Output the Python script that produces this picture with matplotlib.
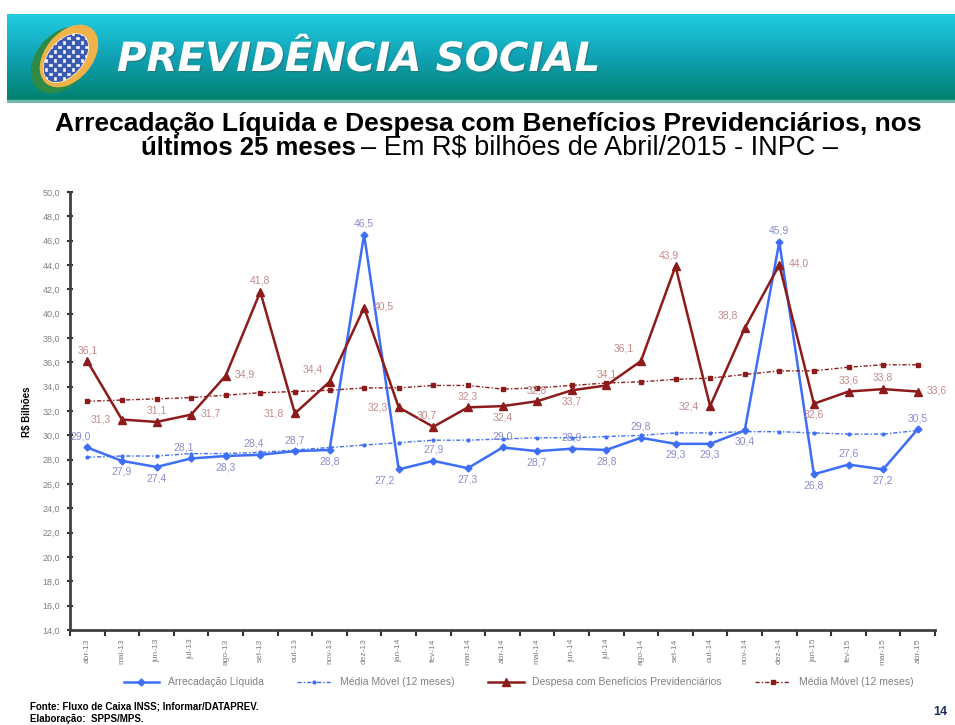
import numpy as np
import matplotlib.pyplot as plt
from matplotlib.patches import Ellipse, Rectangle
import matplotlib.patheffects as pe

plt.rcParams['font.family'] = ['Liberation Sans', 'DejaVu Sans']

meses = ["abr-13", "mai-13", "jun-13", "jul-13", "ago-13", "set-13", "out-13",
         "nov-13", "dez-13", "jan-14", "fev-14", "mar-14", "abr-14", "mai-14",
         "jun-14", "jul-14", "ago-14", "set-14", "out-14", "nov-14", "dez-14",
         "jan-15", "fev-15", "mar-15", "abr-15"]
arrecadacao = [29.0, 27.9, 27.4, 28.1, 28.3, 28.4, 28.7, 28.8, 46.5, 27.2, 27.9,
               27.3, 29.0, 28.7, 28.9, 28.8, 29.8, 29.3, 29.3, 30.4, 45.9, 26.8,
               27.6, 27.2, 30.5]
arrecadacao_mm = [28.2, 28.3, 28.3, 28.5, 28.5, 28.6, 28.8, 29.0, 29.2, 29.4, 29.6,
                  29.6, 29.7, 29.8, 29.8, 29.9, 30.0, 30.2, 30.2, 30.3, 30.3, 30.2,
                  30.1, 30.1, 30.4]
despesa = [36.1, 31.3, 31.1, 31.7, 34.9, 41.8, 31.8, 34.4, 40.5, 32.3, 30.7, 32.3,
           32.4, 32.8, 33.7, 34.1, 36.1, 43.9, 32.4, 38.8, 44.0, 32.6, 33.6, 33.8,
           33.6]
despesa_mm = [32.8, 32.9, 33.0, 33.1, 33.3, 33.5, 33.6, 33.7, 33.9, 33.9, 34.1, 34.1,
              33.8, 33.9, 34.1, 34.3, 34.4, 34.6, 34.7, 35.0, 35.3, 35.3, 35.6, 35.8,
              35.8]

# where each value label sits around its point
pos_arr = ["al", "b", "b", "al", "b", "al", "a", "b", "a", "bl", "a", "b", "a",
           "b", "a", "b", "a", "b", "b", "b", "a", "b", "a", "b", "a"]
pos_desp = ["a", "l", "a", "r", "r", "a", "l", "ul", "r", "l", "al", "a", "b",
            "a", "b", "a", "ul", "al", "l", "ul", "r", "b", "a", "a", "r"]
offs = {"a": (0, 8), "b": (0, -8), "l": (-15, 0), "r": (14, 1),
        "al": (-5, 8), "ul": (-12, 9), "bl": (-10, -8)}

azul = "#3D6EF5"
vermelho = "#8E1B1B"
azul_txt = "#8A8CCB"
verm_txt = "#C48A8A"

fig = plt.figure(figsize=(9.55, 7.25), dpi=100)

# banner
bax = fig.add_axes([7 / 955, 1 - 103 / 725, 948 / 955, 89 / 725])
top = np.array([0.13, 0.80, 0.88])
mid = np.array([0.06, 0.63, 0.70])
bot = np.array([0.00, 0.50, 0.41])
t = np.linspace(0, 1, 100)[:, None]
grad = np.where(t < 0.5, top + (mid - top) * (t / 0.5), mid + (bot - mid) * ((t - 0.5) / 0.5))
bax.imshow(grad[:, None, :].repeat(2, axis=1), extent=[0, 948, 103, 14], aspect='auto')
bax.add_patch(Rectangle((0, 100), 948, 3, color="#6FB8A8"))
bax.set_xlim(0, 948)
bax.set_ylim(103, 14)
bax.axis("off")

# logo
bax.add_patch(Ellipse((55, 60), 74, 50, angle=-50, color="#2E8B45"))
bax.add_patch(Ellipse((62, 56), 70, 46, angle=-50, color="#F2B24A"))
inner = Ellipse((59, 58), 56, 34, angle=-50, color="white")
bax.add_patch(inner)
for i in range(-9, 10):
    for j in range(-9, 10):
        if (i + j) % 2 == 0:
            sq = Rectangle((59 + i * 4.5, 58 + j * 4.5), 4.5, 4.5, color="#3A5BB0")
            bax.add_patch(sq)
            sq.set_clip_path(inner)
bax.text(110, 60, "PREVIDÊNCIA SOCIAL", color="white", fontsize=29, weight="bold",
         style="italic", va="center", ha="left", family="DejaVu Sans",
         path_effects=[pe.withSimplePatchShadow(offset=(1, -1), shadow_rgbFace="#406060", alpha=0.5)])

# title
fig.text(0.511, 0.829, "Arrecadação Líquida e Despesa com Benefícios Previdenciários, nos",
         ha="center", va="center", fontsize=19, weight="bold")
fig.text(0.373, 0.796, "últimos 25 meses", ha="right", va="center", fontsize=18.5,
         weight="bold")
fig.text(0.378, 0.796, "– Em R$ bilhões de Abril/2015 - INPC –", ha="left", va="center",
         fontsize=19.5)

# chart
ax = fig.add_axes([70 / 955, 1 - 630 / 725, 865 / 955, 438 / 725])
x = np.arange(len(meses))
ax.plot(x, arrecadacao, color=azul, lw=1.8, marker="D", ms=3.5, label="Arrecadação Líquida")
ax.plot(x, arrecadacao_mm, color=azul, lw=1.0, ls=(0, (3, 1.5, 1, 1.5)), marker="o", ms=2,
        label="Média Móvel (12 meses)")
ax.plot(x, despesa, color=vermelho, lw=1.8, marker="^", ms=6,
        label="Despesa com Benefícios Previdenciários")
ax.plot(x, despesa_mm, color=vermelho, lw=1.0, ls=(0, (3, 1.5, 1, 1.5)), marker="s", ms=3,
        label="Média Móvel (12 meses)")

for xi, v, p in zip(x, arrecadacao, pos_arr):
    ax.annotate(f"{v:.1f}".replace(".", ","), (xi, v), xytext=offs[p],
                textcoords="offset points", ha="center", va="center",
                fontsize=7.5, color=azul_txt)
for xi, v, p in zip(x, despesa, pos_desp):
    ax.annotate(f"{v:.1f}".replace(".", ","), (xi, v), xytext=offs[p],
                textcoords="offset points", ha="center", va="center",
                fontsize=7.5, color=verm_txt)

ax.set_xlim(-0.5, len(meses) - 0.5)
ax.set_ylim(14, 50)
yt = np.arange(14, 51, 2)
ax.set_yticks(yt)
ax.set_yticklabels([f"{v:.1f}".replace(".", ",") for v in yt])
ax.set_xticks(x)
ax.set_xticklabels(meses, rotation=90)
ax.set_xticks(np.arange(-0.5, len(meses), 1), minor=True)
ax.tick_params(axis="x", which="major", length=0, labelsize=6, labelcolor="#808080", pad=6)
ax.tick_params(axis="x", which="minor", length=4, width=1.5, direction="out", color="#303030")
ax.tick_params(axis="y", length=4, width=1.5, direction="inout", color="#303030",
               labelsize=6.5, labelcolor="#808080", pad=5)
for s in ["top", "right"]:
    ax.spines[s].set_visible(False)
for s in ["left", "bottom"]:
    ax.spines[s].set_linewidth(2)
    ax.spines[s].set_color("#404040")

fig.text(0.028, 0.432, "R$ Bilhões", rotation=90, ha="center", va="center",
         fontsize=7, weight="bold")

fig.legend(loc="center", bbox_to_anchor=(0.543, 0.059), ncol=4, frameon=False,
           fontsize=7.5, labelcolor="#808080", handlelength=3.4, columnspacing=3.2)

# footer
fig.text(0.031, 0.025, "Fonte: Fluxo de Caixa INSS; Informar/DATAPREV.", fontsize=7,
         weight="bold", va="center")
fig.text(0.031, 0.008, "Elaboração:  SPPS/MPS.", fontsize=7, weight="bold", va="center")
fig.text(0.985, 0.018, "14", fontsize=9, weight="bold", color="#1F2F5F", ha="center",
         va="center")

fig.savefig("out.png", dpi=100)
